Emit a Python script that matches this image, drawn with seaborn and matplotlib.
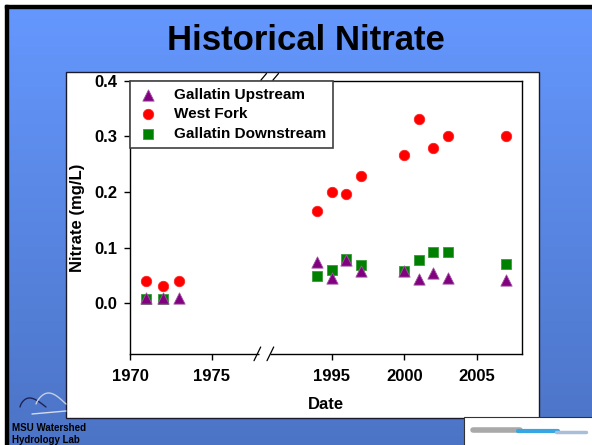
import numpy as np
import pandas as pd
import matplotlib.pyplot as plt
from matplotlib.patches import Rectangle
from matplotlib.colors import LinearSegmentedColormap
import seaborn as sns

sns.set_style('ticks')
plt.rcParams['font.family'] = ['Liberation Sans', 'DejaVu Sans']
plt.rcParams['font.weight'] = 'bold'
plt.rcParams['text.color'] = 'black'
plt.rcParams['axes.labelcolor'] = 'black'
plt.rcParams['xtick.color'] = 'black'
plt.rcParams['ytick.color'] = 'black'

# -------------------------------
# data
# -------------------------------
up_years = [1971, 1972, 1973, 1994, 1995, 1996, 1997, 2000, 2001, 2002, 2003, 2007]
up_nitrate = [0.010, 0.010, 0.010, 0.074, 0.046, 0.077, 0.058, 0.059, 0.043, 0.054, 0.045, 0.042]

wf_years = [1971, 1972, 1973, 1994, 1995, 1996, 1997, 2000, 2001, 2002, 2003, 2007]
wf_nitrate = [0.040, 0.031, 0.040, 0.166, 0.200, 0.196, 0.229, 0.266, 0.332, 0.279, 0.301, 0.301]

down_years = [1971, 1972, 1994, 1995, 1996, 1997, 2000, 2001, 2002, 2003, 2007]
down_nitrate = [0.008, 0.008, 0.050, 0.060, 0.080, 0.069, 0.059, 0.077, 0.092, 0.093, 0.070]

sites = ['Gallatin Upstream', 'West Fork', 'Gallatin Downstream']
left_ticks = [1970, 1975]
right_ticks = [1995, 2000, 2005]
y_ticks = [0.0, 0.1, 0.2, 0.3, 0.4]

df = pd.concat([
    pd.DataFrame({'year': up_years, 'nitrate': up_nitrate, 'site': sites[0]}),
    pd.DataFrame({'year': wf_years, 'nitrate': wf_nitrate, 'site': sites[1]}),
    pd.DataFrame({'year': down_years, 'nitrate': down_nitrate, 'site': sites[2]}),
])

markers = {sites[0]: '^', sites[1]: 'o', sites[2]: 's'}
colors = {sites[0]: '#800080', sites[1]: '#FF0000', sites[2]: '#008000'}
edges = {sites[0]: '#a255a2', sites[1]: '#FF2020', sites[2]: '#3c9a3c'}
sizes = {sites[0]: 66, sites[1]: 56, sites[2]: 52}
zorders = {sites[0]: 4, sites[1]: 3, sites[2]: 3}

W, H = 592, 445
fig = plt.figure(figsize=(W / 100, H / 100), dpi=100)


def px_rect(x0, y0, x1, y1):
    # pixel box (origin top-left) -> figure fraction rect
    return [x0 / W, 1 - y1 / H, (x1 - x0) / W, (y1 - y0) / H]


# --- slide background ---
bg = fig.add_axes([0, 0, 1, 1], zorder=-10)
bg.set_xlim(0, W)
bg.set_ylim(H, 0)
bg.axis('off')
slide_cmap = LinearSegmentedColormap.from_list('slide', ['#6598FF', '#4C74C6'])
bg.imshow(np.linspace(0, 1, 256)[:, None], aspect='auto', cmap=slide_cmap,
          extent=[0, W, H, 0])
bg.add_patch(Rectangle((0, 0), W, 5, color='white'))
bg.add_patch(Rectangle((0, 0), 5, H, color='white'))
bg.add_patch(Rectangle((5, 5), W, 2.5, color='black'))
bg.add_patch(Rectangle((5, 5), 2.5, H, color='black'))
bg.add_patch(Rectangle((66, 72), 473, 346, facecolor='white', edgecolor='#1a1a2a', lw=1))

bg.text(306, 50, 'Historical Nitrate', ha='center', va='baseline', fontsize=25, weight='bold')
bg.text(325.7, 409.3, 'Date', ha='center', va='baseline', fontsize=12, weight='bold')

# lab logo + footer
t = np.linspace(0, 1, 40)
bg.plot(20 + 26 * t, 407 - 9 * np.sin(np.pi * t ** 0.7), color='#1c2458', lw=1)
bg.plot(36 + 30 * t, 404 - 11 * np.sin(np.pi * t ** 0.8), color='#c6cee0', lw=1)
bg.plot([32, 66], [414, 411], color='#d4dcec', lw=1)
bg.text(12, 431, 'MSU Watershed', fontsize=7, weight='bold', va='baseline')
bg.text(12, 443, 'Hydrology Lab', fontsize=7, weight='bold', va='baseline')

# partner logo (bottom right)
bg.add_patch(Rectangle((464, 417), 130, 30, facecolor='white', edgecolor='#333333', lw=0.8))
bg.plot([473, 520], [430, 430], color='#8c8c8c', lw=4, alpha=0.75)
bg.plot([518, 558], [431, 431], color='#38a6e2', lw=3)
bg.plot([556, 586], [432, 432], color='#a9bfd9', lw=2.5)

# --- the two halves of the broken x axis ---
ax_l = fig.add_axes(px_rect(130, 80.7, 266, 354))
ax_r = fig.add_axes(px_rect(266, 80.7, 521.5, 354))
ax_l.set_zorder(2)
ax_r.set_zorder(1)

for ax, lo, hi in [(ax_l, 1960, 1980), (ax_r, 1980, 2010)]:
    for site in sites:
        sub = df[(df.site == site) & (df.year > lo) & (df.year < hi)]
        sns.scatterplot(data=sub, x='year', y='nitrate', ax=ax,
                        marker=markers[site], color=colors[site], s=sizes[site],
                        edgecolor=edges[site], linewidth=0.6, zorder=zorders[site],
                        label=site if ax is ax_l else None)
    ax.set_facecolor('none')
    ax.set_ylim(-0.091, 0.4)
    ax.set_xlabel('')
    ax.set_ylabel('')
    for sp in ax.spines.values():
        sp.set_linewidth(1.0)
        sp.set_color('black')

ax_l.set_xlim(1970, 1978.3)
ax_r.set_xlim(1990.5, 2008.05)
ax_l.spines['right'].set_visible(False)
ax_r.spines['left'].set_visible(False)

ax_l.set_xticks(left_ticks)
ax_r.set_xticks(right_ticks)
ax_l.set_yticks(y_ticks)
ax_l.set_yticklabels([f'{v:.1f}' for v in y_ticks])
ax_r.set_yticks([])
for ax in (ax_l, ax_r):
    ax.tick_params(axis='x', direction='out', length=4, width=1, pad=7, labelsize=12)
ax_l.tick_params(axis='y', direction='out', length=4, width=1, pad=5, labelsize=12)
ax_r.tick_params(axis='y', left=False, right=False)

ax_l.set_ylabel('Nitrate (mg/L)', fontsize=12, weight='bold')
ax_l.yaxis.set_label_coords(-0.33, 0.5)

leg = ax_l.legend(loc='upper left', bbox_to_anchor=(0, 1), borderaxespad=0,
                  fancybox=False, framealpha=1, edgecolor='#404040',
                  prop={'size': 11, 'weight': 'bold'}, borderpad=0.45,
                  labelspacing=0.38, handlelength=1.5, handletextpad=0.95)
leg.get_frame().set_linewidth(1.2)

# --- axis break marks ---
ov = fig.add_axes([0, 0, 1, 1], zorder=10)
ov.set_xlim(0, W)
ov.set_ylim(H, 0)
ov.axis('off')
ov.plot([258.5, 269.5], [354, 354], color='white', lw=2.5, solid_capstyle='butt')
for x0 in (254, 267):
    ov.plot([x0, x0 + 6.7], [360.7, 347], color='black', lw=0.9)
for x0 in (261, 273):
    ov.plot([x0, x0 + 5.5], [80, 73.5], color='black', lw=0.9)

fig.savefig('out.png', dpi=100)
